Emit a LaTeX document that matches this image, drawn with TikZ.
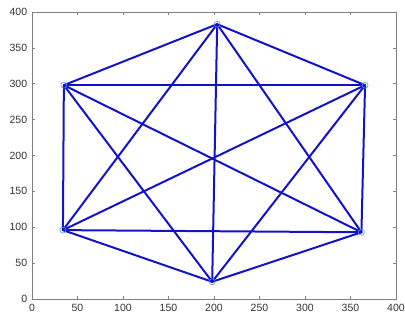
\documentclass[tikz,border=0pt]{standalone}
\usepackage{fontspec}
\setmainfont{Liberation Sans}
\usepackage{tikz}
\usetikzlibrary{positioning}
\definecolor{edgeblue}{RGB}{18,18,200}
\definecolor{markblue}{RGB}{80,150,230}
\definecolor{axisgray}{RGB}{50,50,50}

\begin{document}
\begin{tikzpicture}[
  x=0.91pt, y=0.7175pt,
  every node/.style={font=\fontsize{10.5}{12}\selectfont, text=axisgray, inner sep=1pt},
  axisbox/.style ={draw=black!50, line width=0.7pt},
  tickmark/.style={draw=black!50, line width=0.5pt},
  edgeline/.style={draw=edgeblue, line width=2pt, line cap=round},
  vertex/.style  ={circle, draw=markblue, line width=0.6pt,
                   minimum size=6pt, inner sep=0pt}]

\useasboundingbox (-32pt,-22pt) rectangle ++(405pt,321pt);

% ============================  axes  =================================
\path[axisbox] (0,0) rectangle (400,400);
\foreach \x in {50,100,...,350}{
  \draw[tickmark] (\x,0) -- ++(0,3pt);
  \draw[tickmark] (\x,400) -- ++(0,-3pt);}
\foreach \y in {50,100,...,350}{
  \draw[tickmark] (0,\y) -- ++(3pt,0);
  \draw[tickmark] (400,\y) -- ++(-3pt,0);}
\foreach \x in {0,50,...,400}{\node[anchor=north] (xl\x) at (\x,-5) {\x};}
\foreach \y in {0,50,...,400}{\node[anchor=east]  (yl\y) at (-4,\y) {\y};}

% ==========================  the graph  ==============================
\coordinate (v1) at (203.5,383);
\coordinate (v2) at (366,298);
\coordinate (v3) at (362,93);
\coordinate (v4) at (198,24);
\coordinate (v5) at (34,96);
\coordinate (v6) at (35,298);

\foreach \a/\b in {v1/v2,v1/v3,v1/v4,v1/v5,v1/v6,
                   v2/v3,v2/v4,v2/v5,v2/v6,
                   v3/v4,v3/v5,v3/v6,
                   v4/v5,v4/v6,
                   v5/v6}{\draw[edgeline] (\a) -- (\b);}

\foreach \v in {1,...,6}{\node[vertex] (m\v) at (v\v) {};}

\end{tikzpicture}
\end{document}
